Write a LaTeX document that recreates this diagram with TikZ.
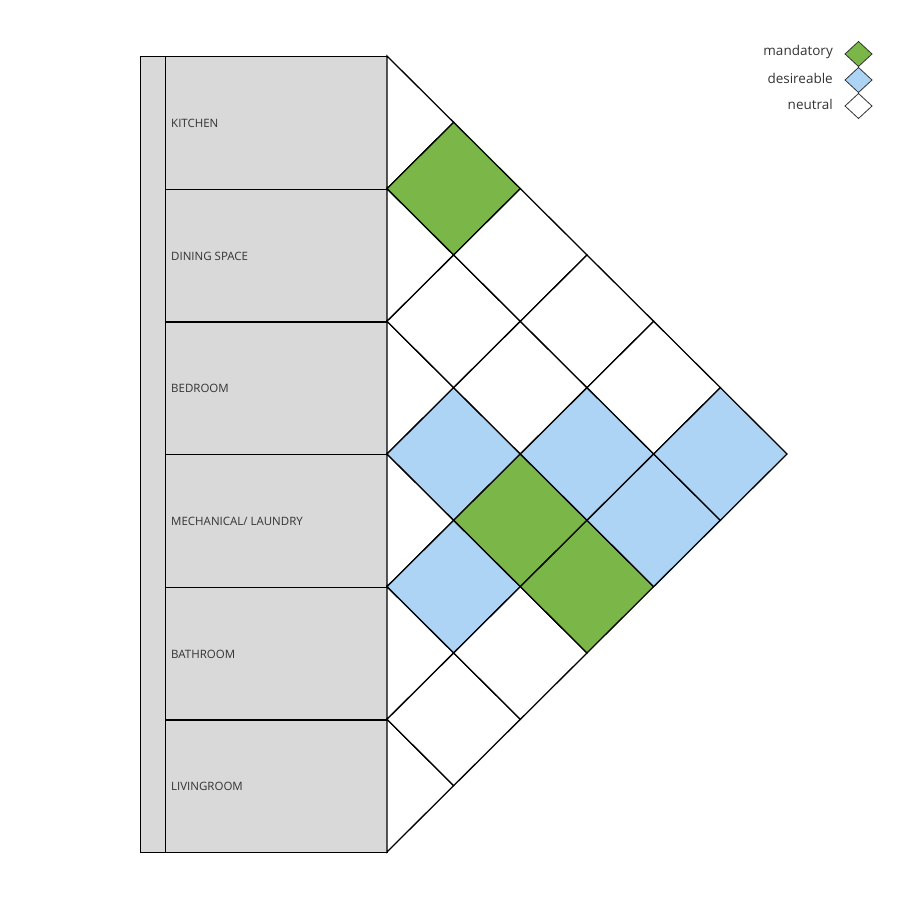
\documentclass[tikz,border=0pt]{standalone}
\usepackage{fontspec}
\setmainfont{Open Sans}
\definecolor{mgreen}{HTML}{7AB648}
\definecolor{dblue}{HTML}{AED4F5}
\definecolor{roomgray}{HTML}{D9D9D9}
\definecolor{txt}{HTML}{333333}
\begin{document}
\begin{tikzpicture}[x=1pt,y=-1pt,
  cell/.style={draw=black,line width=1.3pt,line join=miter},
  roombox/.style={draw=black,fill=roomgray,line width=1.3pt,minimum width=222pt,minimum height=132.67pt,inner sep=0pt,anchor=north west},
  roomlabel/.style={text=txt,font=\fontsize{11.5}{13}\selectfont,anchor=west,inner sep=0pt},
  legtext/.style={text=txt,font=\fontsize{13.5}{15}\selectfont,anchor=east,inner sep=0pt},
  legdia/.style={draw=black!80,line width=0.8pt}]
\useasboundingbox (0,0) rectangle (911,909);
\def\hx{66.67}
\def\hy{66.33}
% left bar
\node[draw=black,fill=roomgray,line width=1.3pt,minimum width=25pt,minimum height=796pt,inner sep=0pt,anchor=north west] (bar) at (140,56) {};
% rooms
\foreach \i/\name/\lab in {0/kit/{KITCHEN},1/din/{DINING SPACE},2/bed/{BEDROOM},3/mech/{MECHANICAL/ LAUNDRY},4/bath/{BATHROOM},5/liv/{LIVINGROOM}}{
  \node[roombox] (\name) at (165,{56+2*\i*\hy}) {};
  \node[roomlabel] (\name-t) at (171,{57+(2*\i+1)*\hy}) {\lab};
}
% self triangles
\foreach \i in {0,...,5}{
  \draw[cell,fill=white] (387,{56+2*\i*\hy}) -- ({387+\hx},{56+(2*\i+1)*\hy}) -- (387,{56+(2*\i+2)*\hy}) -- cycle;
}
% pair diamonds
\foreach \i/\j/\c in {0/1/mgreen,1/2/white,2/3/dblue,3/4/dblue,4/5/white,
  0/2/white,1/3/white,2/4/mgreen,3/5/white,
  0/3/white,1/4/dblue,2/5/mgreen,
  0/4/white,1/5/dblue,
  0/5/dblue}{
  \coordinate (d\i\j) at ({387+(\j-\i)*\hx},{56+(\i+\j+1)*\hy});
  \draw[cell,fill=\c] ([xshift=-\hx pt]d\i\j) -- ([yshift=-\hy pt]d\i\j) -- ([xshift=\hx pt]d\i\j) -- ([yshift=\hy pt]d\i\j) -- cycle;
}
% legend
\foreach \k/\lab/\c/\y in {m/mandatory/mgreen/54,d/desireable/dblue/80,n/neutral/white/106}{
  \coordinate (leg\k) at (858.5,\y);
  \node[legtext] (leg\k-t) at (833,{\y-2}) {\lab};
  \draw[legdia,fill=\c] ([xshift=-13.5pt]leg\k) -- ([yshift=-12.5pt]leg\k) -- ([xshift=13.5pt]leg\k) -- ([yshift=12.5pt]leg\k) -- cycle;
}
\end{tikzpicture}
\end{document}
